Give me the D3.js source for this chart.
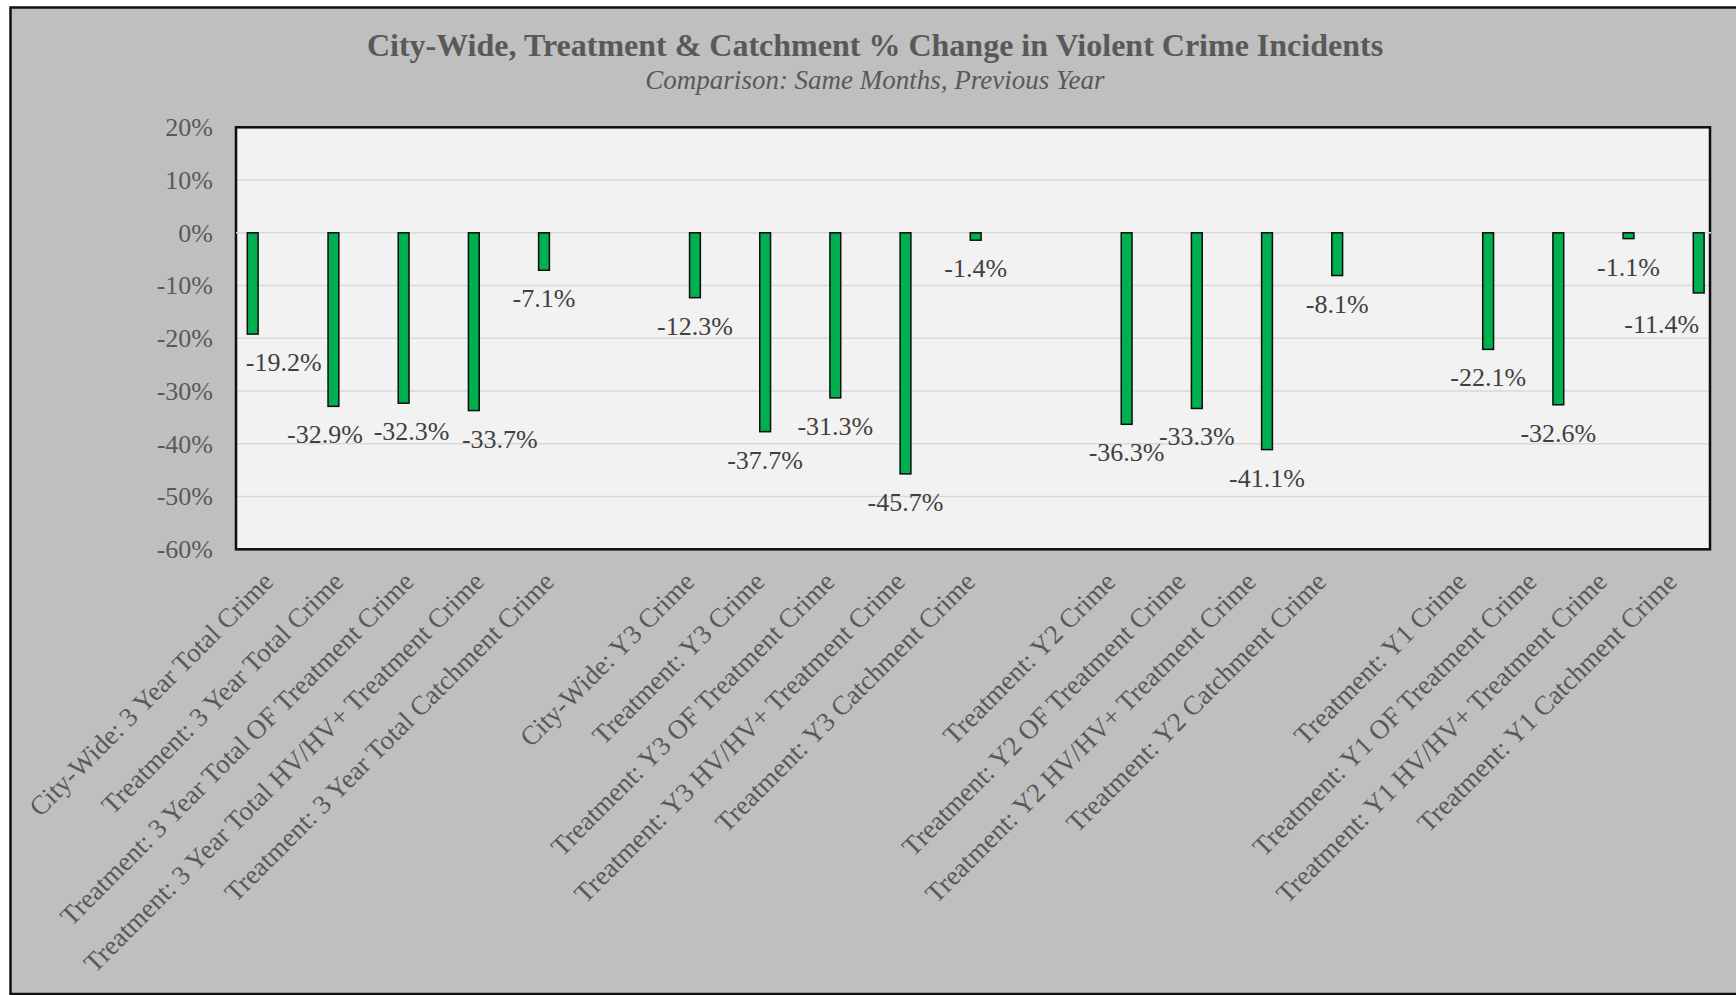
<!DOCTYPE html>
<html>
<head>
<meta charset="utf-8">
<script src="https://cdn.jsdelivr.net/npm/d3@7"></script>
<style>
  html, body { margin: 0; padding: 0; background: #ffffff; }
  svg { display: block; }
  text { font-family: "Liberation Serif", "Times New Roman", serif; }
</style>
</head>
<body>
<svg id="chart" width="1736" height="995"></svg>
<script>
// Category labels along the x axis ("" marks an empty spacer slot between groups)
const categories = [
  "City-Wide: 3 Year Total Crime",
  "Treatment: 3 Year Total Crime",
  "Treatment: 3 Year Total OF Treatment Crime",
  "Treatment: 3 Year Total HV/HV+ Treatment Crime",
  "Treatment: 3 Year Total Catchment Crime",
  "",
  "City-Wide: Y3 Crime",
  "Treatment: Y3 Crime",
  "Treatment: Y3 OF Treatment Crime",
  "Treatment: Y3 HV/HV+ Treatment Crime",
  "Treatment: Y3 Catchment Crime",
  "",
  "Treatment: Y2 Crime",
  "Treatment: Y2 OF Treatment Crime",
  "Treatment: Y2 HV/HV+ Treatment Crime",
  "Treatment: Y2 Catchment Crime",
  "",
  "Treatment: Y1 Crime",
  "Treatment: Y1 OF Treatment Crime",
  "Treatment: Y1 HV/HV+ Treatment Crime",
  "Treatment: Y1 Catchment Crime"
];

// % change in violent crime incidents (null = spacer)
const pctChange = [
  -19.2, -32.9, -32.3, -33.7, -7.1,
  null,
  -12.3, -37.7, -31.3, -45.7, -1.4,
  null,
  -36.3, -33.3, -41.1, -8.1,
  null,
  -22.1, -32.6, -1.1, -11.4
];

// Series each bar belongs to (clustered layout with one bar per category)
const seriesNames = ["City-Wide 3 Year", "Treatment 3 Year", "Year 3", "Year 2", "Year 1"];
const seriesOf = [
  0, 1, 1, 1, 1,
  null,
  2, 2, 2, 2, 2,
  null,
  3, 3, 3, 3,
  null,
  4, 4, 4, 4
];

const yTicks = [20, 10, 0, -10, -20, -30, -40, -50, -60];

const titleText = "City-Wide, Treatment & Catchment % Change in Violent Crime Incidents";
const subtitleText = "Comparison: Same Months, Previous Year";

// ---- layout ----
const W = 1736, H = 995;
const plot = { left: 236, right: 1710, top: 127.3, bottom: 549.3 };

const svg = d3.select("#chart");

// outer chart area
svg.append("rect")
  .attr("x", 10.5).attr("y", 7.5)
  .attr("width", W + 20).attr("height", 986.5)
  .attr("fill", "#bfbfbf")
  .attr("stroke", "#111").attr("stroke-width", 2.5);

// title + subtitle
svg.append("text")
  .attr("x", 875).attr("y", 56)
  .attr("text-anchor", "middle")
  .attr("font-size", 32).attr("font-weight", "bold")
  .attr("fill", "#595959")
  .text(titleText);
svg.append("text")
  .attr("x", 875).attr("y", 89)
  .attr("text-anchor", "middle")
  .attr("font-size", 27).attr("font-style", "italic")
  .attr("fill", "#595959")
  .text(subtitleText);

// scales
const idx = categories.map((_, i) => i);
const x = d3.scaleBand().domain(idx).range([plot.left + 2.7, plot.right + 2.7]).padding(0);
const slot = d3.scalePoint().domain(d3.range(seriesNames.length)).range([-21.1, 21.1]);
const y = d3.scaleLinear().domain([-60, 20]).range([plot.bottom, plot.top]);

// plot background
svg.append("rect")
  .attr("x", plot.left).attr("y", plot.top)
  .attr("width", plot.right - plot.left).attr("height", plot.bottom - plot.top)
  .attr("fill", "#f2f2f2");

// gridlines
svg.append("g")
  .selectAll("line")
  .data(yTicks.filter(t => t < 20 && t > -60 && t !== 0))
  .join("line")
  .attr("x1", plot.left).attr("x2", plot.right)
  .attr("y1", d => y(d)).attr("y2", d => y(d))
  .attr("stroke", "#d9d9d9").attr("stroke-width", 1.5);

// plot frame
svg.append("rect")
  .attr("x", plot.left).attr("y", plot.top)
  .attr("width", plot.right - plot.left).attr("height", plot.bottom - plot.top)
  .attr("fill", "none")
  .attr("stroke", "#0d0d0d").attr("stroke-width", 2.5);

// zero line
svg.append("line")
  .attr("x1", plot.left).attr("x2", plot.right + 1)
  .attr("y1", y(0)).attr("y2", y(0))
  .attr("stroke", "#d9d9d9").attr("stroke-width", 1.5);

// y axis
const yAxis = svg.append("g")
  .attr("transform", `translate(${plot.left},0)`)
  .call(d3.axisLeft(y).tickValues(yTicks).tickSize(0).tickPadding(23).tickFormat(d => d + "%"));
yAxis.select(".domain").remove();
yAxis.selectAll("text")
  .attr("font-family", "Liberation Serif, Times New Roman, serif")
  .attr("font-size", 26).attr("fill", "#595959");

// x axis (rotated category labels)
const xAxis = svg.append("g")
  .attr("transform", `translate(0,${plot.bottom})`)
  .call(d3.axisBottom(x).tickSize(0).tickFormat(i => categories[i]));
xAxis.select(".domain").remove();
xAxis.selectAll("text")
  .attr("font-family", "Liberation Serif, Times New Roman, serif")
  .attr("font-size", 27).attr("fill", "#595959")
  .attr("text-anchor", "end")
  .attr("x", 0).attr("y", 0).attr("dy", 0)
  .attr("transform", "translate(1,34) rotate(-45)");

// bars
const bars = idx.filter(i => pctChange[i] !== null).map(i => ({
  i, v: pctChange[i], s: seriesOf[i],
  cx: x(i) + x.bandwidth() / 2 + slot(seriesOf[i])
}));
const barW = 10.8;
svg.append("g")
  .selectAll("rect")
  .data(bars)
  .join("rect")
  .attr("x", d => d.cx - barW / 2)
  .attr("y", d => Math.min(y(0), y(d.v)))
  .attr("width", barW)
  .attr("height", d => Math.abs(y(d.v) - y(0)))
  .attr("fill", "#00b050")
  .attr("stroke", "#0d0d0d").attr("stroke-width", 1.5);

// data labels, a few of them nudged sideways so they do not collide
const labelDx = { 0: 31, 1: -8.5, 2: 8, 3: 26, 20: -37 };
const labelDy = { 20: 3 };
svg.append("g")
  .selectAll("text")
  .data(bars)
  .join("text")
  .attr("x", d => d.cx + (labelDx[d.i] || 0))
  .attr("y", d => y(d.v) + 37 + (labelDy[d.i] || 0))
  .attr("text-anchor", "middle")
  .attr("font-size", 26).attr("fill", "#404040")
  .text(d => d.v.toFixed(1) + "%");
</script>
</body>
</html>
